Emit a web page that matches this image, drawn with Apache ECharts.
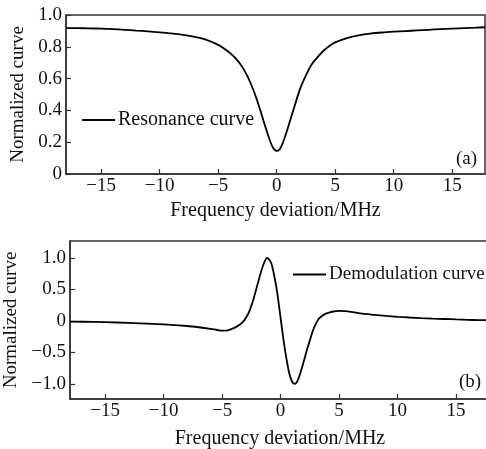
<!DOCTYPE html>
<html>
<head>
<meta charset="utf-8">
<script src="https://cdn.jsdelivr.net/npm/echarts@6/dist/echarts.min.js"></script>
<style>
  html, body { margin: 0; padding: 0; background: #fff; }
  #chart { width: 486px; height: 449px; }
</style>
</head>
<body>
<div id="chart"></div>
<script>
// Panel (a): resonance curve, frequency deviation (MHz) vs normalized value
const freqA = [-18, -17, -16, -15, -14, -13, -12, -11, -10, -9, -8, -7, -6, -5, -4.5, -4, -3.5, -3, -2.5, -2,
  -1.5, -1, -0.5, -0.25, 0, 0.25, 0.5, 1, 1.5, 2, 2.5, 3, 3.5, 4, 4.5, 5, 6, 7, 8, 9, 10, 11, 12, 13, 14, 15, 16, 17, 17.8];
const resonance = [0.918, 0.917, 0.916, 0.914, 0.911, 0.907, 0.902, 0.897, 0.891, 0.884, 0.875, 0.862, 0.843, 0.812, 0.790, 0.762, 0.727, 0.680, 0.615, 0.530,
  0.425, 0.305, 0.195, 0.158, 0.145, 0.155, 0.190, 0.300, 0.420, 0.535, 0.620, 0.690, 0.735, 0.775, 0.805, 0.828, 0.855, 0.872, 0.883, 0.890, 0.895, 0.899, 0.903, 0.907, 0.911, 0.914, 0.917, 0.920, 0.923];

// Panel (b): demodulation curve
const freqB = [-18, -16, -14, -12, -10, -8, -7, -6, -5.5, -5, -4.5, -4, -3.5, -3.2, -3, -2.75, -2.5, -2.25, -2, -1.75,
  -1.5, -1.3, -1.14, -1, -0.8, -0.5, -0.25, 0, 0.25, 0.5, 0.75, 1, 1.2, 1.4, 1.6, 1.8, 2, 2.25, 2.5, 2.75,
  3, 3.25, 3.5, 3.75, 4, 4.5, 5, 5.5, 6, 7, 8, 9, 10, 11, 12, 13, 14, 15, 16, 17, 18];
const demodulation = [-0.01, -0.015, -0.025, -0.04, -0.055, -0.08, -0.10, -0.125, -0.14, -0.155, -0.148, -0.115, -0.06, -0.01, 0.04, 0.12, 0.24, 0.39, 0.56, 0.73,
  0.88, 0.97, 1.0, 0.98, 0.92, 0.68, 0.40, 0.05, -0.30, -0.60, -0.84, -0.97, -1.0, -0.97, -0.88, -0.76, -0.63, -0.46, -0.31, -0.16,
  -0.05, 0.03, 0.075, 0.105, 0.125, 0.15, 0.16, 0.155, 0.145, 0.115, 0.097, 0.08, 0.066, 0.055, 0.046, 0.038, 0.031, 0.024, 0.018, 0.013, 0.01];

const xTicks = [-15, -10, -5, 0, 5, 10, 15];
const yTicksA = [0, 0.2, 0.4, 0.6, 0.8, 1.0];
const yTicksB = [-1.0, -0.5, 0, 0.5, 1.0];

const xTitle = 'Frequency deviation/MHz';
const yTitle = 'Normalized curve';
const nameA = 'Resonance curve';
const nameB = 'Demodulation curve';

const FONT = 'Liberation Serif';
const INK = '#111';
const FRAME = '#333';

const minus = v => (v < 0 ? '\u2212' : '');
const fmtInt = v => minus(v) + Math.abs(v);
const fmtDec = v => (v === 0 ? '0' : minus(v) + Math.abs(v).toFixed(1));

function xAxis(grid, max, gap) {
  return {
    gridIndex: grid, type: 'value', min: -18, max: max,
    name: xTitle, nameLocation: 'middle', nameGap: gap,
    nameTextStyle: { fontFamily: FONT, fontSize: 20, color: INK },
    axisLine: { show: true, onZero: false, lineStyle: { color: FRAME, width: 1.5 } },
    axisTick: { show: true, inside: true, length: 5, customValues: xTicks, lineStyle: { color: FRAME, width: 1.2 } },
    axisLabel: { customValues: xTicks, formatter: fmtInt, margin: 3, fontFamily: FONT, fontSize: 19, color: INK },
    splitLine: { show: false }
  };
}

function yAxis(grid, min, max, ticks) {
  return {
    gridIndex: grid, type: 'value', min: min, max: max,
    name: yTitle, nameLocation: 'middle', nameGap: 33, nameRotate: 90,
    nameTextStyle: { fontFamily: FONT, fontSize: 19, color: INK },
    axisLine: { show: true, onZero: false, lineStyle: { color: FRAME, width: 1.5 } },
    axisTick: { show: true, inside: true, length: 5, customValues: ticks, lineStyle: { color: FRAME, width: 1.2 } },
    axisLabel: { customValues: ticks, formatter: fmtDec, margin: 4, fontFamily: FONT, fontSize: 19, color: INK },
    splitLine: { show: false }
  };
}

const chart = echarts.init(document.getElementById('chart'), null, { renderer: 'canvas' });

chart.setOption({
  animation: false,
  backgroundColor: '#fff',
  grid: [
    { left: 66, top: 15, width: 419, height: 159, show: true, borderColor: FRAME, borderWidth: 1.5, outerBoundsMode: 'none', containLabel: false },
    { left: 70, top: 241, width: 420, height: 158, show: true, borderColor: FRAME, borderWidth: 1.5, outerBoundsMode: 'none', containLabel: false }
  ],
  xAxis: [xAxis(0, 17.8, 27), xAxis(1, 17.9, 30)],
  yAxis: [yAxis(0, 0, 1, yTicksA), yAxis(1, -1.24, 1.27, yTicksB)],
  legend: [
    {
      data: [nameA], left: 77, top: 105, icon: 'rect', itemWidth: 33, itemHeight: 2,
      textStyle: { fontFamily: FONT, fontSize: 20, color: INK, padding: [0, 0, 0, -2] }
    },
    {
      data: [nameB], left: 288, top: 260, icon: 'rect', itemWidth: 33, itemHeight: 2,
      textStyle: { fontFamily: FONT, fontSize: 19, color: INK, padding: [0, 0, 0, -2] }
    }
  ],
  graphic: [
    { type: 'text', left: 456, top: 150, style: { text: '(a)', font: '19px "Liberation Serif"', fill: INK } },
    { type: 'text', left: 459, top: 373, style: { text: '(b)', font: '19px "Liberation Serif"', fill: INK } }
  ],
  series: [
    {
      name: nameA, type: 'line', xAxisIndex: 0, yAxisIndex: 0, showSymbol: false, smooth: 0.3,
      lineStyle: { color: '#000', width: 1.8 }, itemStyle: { color: '#000' },
      data: freqA.map((f, i) => [f, resonance[i]])
    },
    {
      name: nameB, type: 'line', xAxisIndex: 1, yAxisIndex: 1, showSymbol: false, smooth: 0.25,
      lineStyle: { color: '#000', width: 1.8 }, itemStyle: { color: '#000' },
      data: freqB.map((f, i) => [f, demodulation[i]])
    }
  ]
});
</script>
</body>
</html>
